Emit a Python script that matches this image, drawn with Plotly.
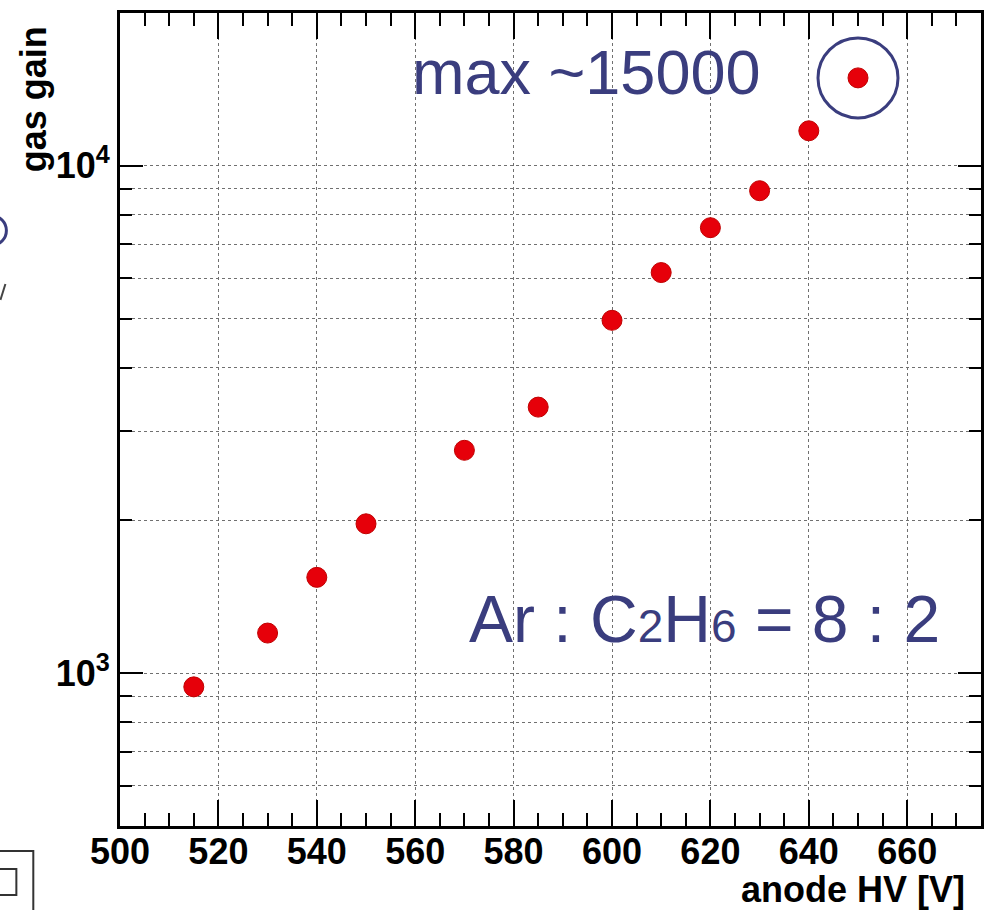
import math
import plotly.graph_objects as go

# ---- data ----
anode_hv = [515, 530, 540, 550, 570, 585, 600, 610, 620, 630, 640, 650]
gas_gain = [940, 1200, 1545, 1970, 2750, 3345, 4960, 6160, 7550, 8930, 11720, 14900]
max_hv = [650]
max_gain = [14900]

x_major = [500, 520, 540, 560, 580, 600, 620, 640, 660]
y_major = [1000, 10000]
y_major_text = ["10<sup>3</sup>", "10<sup>4</sup>"]
y_minor = [500, 600, 700, 800, 900, 2000, 3000, 4000, 5000, 6000, 7000, 8000, 9000, 20000]

NAVY = "#3a3d7e"
W, H = 991, 910
L, R, T, B = 120, 7, 13, 84
PW, PH = W - L - R, H - T - B


def px(xp):
    return (xp - L) / PW


def py(yp):
    return (H - B - yp) / PH


fig = go.Figure()
fig.add_trace(go.Scatter(
    x=anode_hv, y=gas_gain, mode="markers",
    marker=dict(size=20, color="#e6000a", line=dict(width=1, color="#c00000")),
    showlegend=False, hoverinfo="x+y"))
fig.add_trace(go.Scatter(
    x=max_hv, y=max_gain, mode="markers",
    marker=dict(size=80, symbol="circle-open", color=NAVY, line=dict(width=3, color=NAVY)),
    showlegend=False, hoverinfo="skip"))

tickfont = dict(family="Liberation Sans, Arial, sans-serif", size=36, color="black", weight="bold")

fig.update_xaxes(
    range=[500, 675], tickmode="array", tickvals=x_major,
    ticks="inside", ticklen=26, tickwidth=2, tickcolor="black",
    showline=True, linewidth=3, linecolor="black", mirror="ticks",
    showgrid=True, gridcolor="#707070", gridwidth=1, griddash="dot",
    zeroline=False, tickfont=tickfont, ticklabelstandoff=-8,
    minor=dict(dtick=5, tick0=500, ticks="inside", ticklen=13, tickwidth=2,
               tickcolor="black", showgrid=False),
)
fig.update_yaxes(
    type="log", range=[math.log10(500), math.log10(20000)],
    tickmode="array", tickvals=y_major, ticktext=y_major_text,
    ticks="inside", ticklen=23, tickwidth=2, tickcolor="black",
    showline=True, linewidth=3, linecolor="black", mirror="ticks",
    showgrid=True, gridcolor="#707070", gridwidth=1, griddash="dot",
    zeroline=False, tickfont=tickfont, ticklabelstandoff=0,
    minor=dict(tickvals=y_minor, ticks="inside", ticklen=12, tickwidth=2,
               tickcolor="black", showgrid=True, gridcolor="#707070",
               gridwidth=1, griddash="dot"),
)

annfont_bold = dict(family="Liberation Sans, Arial, sans-serif", size=36, color="black", weight="bold")
txtfont = dict(family="Liberation Sans, Arial, sans-serif", size=63, color=NAVY)

fig.update_layout(
    width=W, height=H,
    margin=dict(l=L, r=R, t=T, b=B),
    paper_bgcolor="white", plot_bgcolor="white",
    annotations=[
        dict(text="gas gain", xref="paper", yref="paper", x=px(33), y=py(24),
             xanchor="center", yanchor="top", textangle=-90, showarrow=False,
             font=annfont_bold),
        dict(text="anode HV [V]", xref="paper", yref="paper", x=px(970), y=py(889),
             xanchor="right", yanchor="middle", showarrow=False, font=annfont_bold),
        dict(text="max ~15000", xref="paper", yref="paper", x=px(411), y=py(72),
             xanchor="left", yanchor="middle", showarrow=False, font=txtfont),
        dict(text="Ar : C<span style='font-size:46px'>2</span>H<span style='font-size:46px'>6</span> = 8 : 2",
             xref="paper", yref="paper", x=px(468), y=py(619),
             xanchor="left", yanchor="middle", showarrow=False,
             font=dict(family="Liberation Sans, Arial, sans-serif", size=66, color=NAVY)),
    ],
    shapes=[
        # cropped fragments at the left edge of the slide
        dict(type="circle", xref="paper", yref="paper",
             x0=px(-22), x1=px(6), y0=py(216), y1=py(245),
             line=dict(color=NAVY, width=3)),
        dict(type="line", xref="paper", yref="paper",
             x0=px(0), x1=px(5), y0=py(300), y1=py(284),
             line=dict(color="#444", width=2)),
        dict(type="rect", xref="paper", yref="paper",
             x0=px(-2), x1=px(33), y0=py(851), y1=py(912),
             line=dict(color="#333", width=2)),
        dict(type="rect", xref="paper", yref="paper",
             x0=px(-2), x1=px(16), y0=py(869), y1=py(895),
             line=dict(color="#333", width=2)),
    ],
)

fig.write_html("out.html")
